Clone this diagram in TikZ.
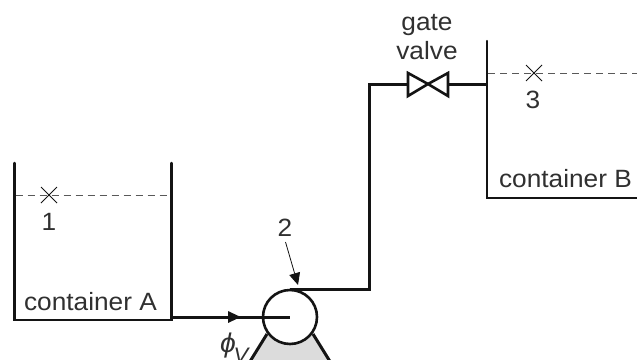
\documentclass[tikz,border=0pt]{standalone}
\usepackage{fontspec}
\setmainfont[FakeStretch=1.05]{Liberation Sans}
\usetikzlibrary{arrows.meta,calc}
\definecolor{ink}{HTML}{141414}
\definecolor{txt}{HTML}{303030}
\definecolor{pumpfill}{HTML}{DCDCDC}
\tikzset{
  pipe/.style={line width=3pt,draw=ink},
  wall/.style={line width=2.5pt,draw=ink,line cap=round,line join=miter},
  level/.style={line width=1pt,draw=black!65,dash pattern=on 7pt off 5pt},
  crossmark/.style={line width=0.8pt,draw=ink},
  lab/.style={inner sep=0pt,text=txt,font=\fontsize{25}{25}\selectfont,anchor=base},
  pump/.style={circle,draw=ink,line width=2.6pt,fill=white,minimum size=54pt,inner sep=0pt},
  flowtip/.style={-{Triangle[length=13pt,width=11pt]}},
  pointer/.style={line width=0.8pt,draw=ink,-{Triangle[length=12pt,width=11pt]}},
}
\begin{document}
\begin{tikzpicture}[x=1pt,y=-1pt]
\useasboundingbox (0,0) rectangle (637,359);
\clip (0,0) rectangle (637,359);
% container A
\coordinate (atl) at (14.5,163);
\coordinate (abl) at (14.5,320);
\coordinate (abr) at (171.5,320);
\coordinate (atr) at (171.5,163);
\draw[wall] (atl) -- (abl) -- (abr) -- (atr);
\coordinate (la) at (15.5,195);
\coordinate (lb) at (168,195);
\draw[level] (la) -- (lb);
\coordinate (c1) at (49,195);
\draw[crossmark] ($(c1)+(-8,-8)$) -- ($(c1)+(8,8)$) ($(c1)+(-8,8)$) -- ($(c1)+(8,-8)$);
\node[lab] (n1) at (49,230) {1};
\node[lab] (ca) at (90.5,310) {container A};
% container B
\coordinate (btl) at (487,41);
\coordinate (bbl) at (487,198);
\coordinate (bbr) at (637,198);
\draw[wall] (btl) -- (bbl) -- (bbr);
\coordinate (lc) at (488,73);
\coordinate (ld) at (637,73);
\draw[level] (lc) -- (ld);
\coordinate (c3) at (534,73);
\draw[crossmark] ($(c3)+(-8,-8)$) -- ($(c3)+(8,8)$) ($(c3)+(-8,8)$) -- ($(c3)+(8,-8)$);
\node[lab] (n3) at (533,108) {3};
\node[lab] (cb) at (565.5,187) {container B};
% pump
\coordinate (pl1) at (267,334);
\coordinate (pl2) at (241,376);
\coordinate (pr2) at (339,376);
\coordinate (pr1) at (313,334);
\fill[pumpfill] (pl1) -- (pl2) -- (pr2) -- (pr1) -- cycle;
\draw[pipe] (pl1) -- (pl2) (pr1) -- (pr2);
\node[pump] (p) at (290,317) {};
% pipes
\coordinate (pin) at (290,317);
\draw[pipe] (abr |- pin) -- (pin);
\coordinate (ftip) at (241,317);
\draw[pipe,flowtip] (abr |- pin) -- (ftip);
\coordinate (ptop) at (290,289);
\coordinate (up) at (369,289);
\coordinate (top) at (369,84);
\coordinate (vl) at (408,84);
\coordinate (vr) at (448,84);
\coordinate (vc) at (428,84);
\coordinate (bin) at (487,84);
\draw[pipe] (ptop) -- (up) -- (top) -- (vl);
\draw[pipe] (vr) -- (bin);
% valve
\draw[pipe,line width=2.6pt,line join=miter,miter limit=3] (vc) -- (408,73) -- (408,96) -- (vc) -- (448,73) -- (448,96) -- cycle;
\node[lab] (g1) at (427,30) {gate};
\node[lab] (g2) at (427,59) {valve};
% label 2
\node[lab] (n2) at (285,236) {2};
\coordinate (a2s) at (285.5,242);
\coordinate (a2e) at (298,285);
\draw[pointer] (a2s) -- (a2e);
% phi
\node[lab,font=\fontsize{27}{27}\selectfont\itshape] (phi) at (228,352) {ϕ};
\node[lab,font=\fontsize{21}{21}\selectfont\itshape] (phiv) at (241,362) {V};
\end{tikzpicture}
\end{document}
